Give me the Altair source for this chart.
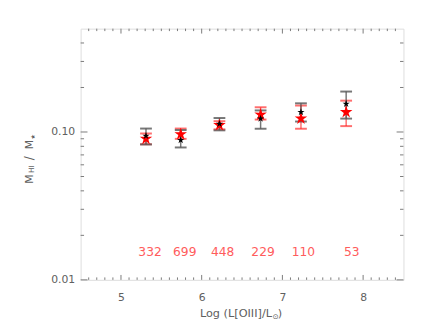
import altair as alt
import pandas as pd
import numpy as np

# ---- data ----
log_oiii = [5.31, 5.74, 6.22, 6.73, 7.23, 7.79]
black_y = [0.0941, 0.0881, 0.1135, 0.1232, 0.1363, 0.155]
black_lo = [0.0824, 0.0786, 0.1026, 0.1052, 0.1177, 0.1232]
black_hi = [0.1055, 0.1031, 0.1243, 0.1399, 0.1563, 0.1877]
red_y = [0.0899, 0.0966, 0.1113, 0.131, 0.1232, 0.1363]
red_lo = [0.0826, 0.0899, 0.1042, 0.1214, 0.1052, 0.1096]
red_hi = [0.0977, 0.1055, 0.1183, 0.147, 0.151, 0.1629]
counts = ["332", "699", "448", "229", "110", "53"]
count_x = [5.36, 5.79, 6.26, 6.76, 7.26, 7.86]
count_y = [0.0154] * 6

x_major = [5, 6, 7, 8]
x_minor = [round(v, 1) for v in np.arange(4.6, 8.45, 0.1) if abs(v - round(v)) > 0.01]
y_major = [0.01, 0.1]
y_minor = [0.02, 0.03, 0.04, 0.05, 0.06, 0.07, 0.08, 0.09, 0.2, 0.3, 0.4]

W, H = 329, 256
FONT = "DejaVu Sans"
GRAY = "#7a7a7a"
LABEL = "#606060"
STAR = ("M0,-1 L0.223,-0.307 L0.951,-0.309 L0.361,0.117 L0.588,0.809 L0,0.38 "
        "L-0.588,0.809 L-0.361,0.117 L-0.951,-0.309 L-0.223,-0.307 Z")

xscale = alt.Scale(domain=[4.5, 8.5], nice=False, zero=False)
yscale = alt.Scale(type="log", domain=[0.01, 0.5], nice=False)

black = pd.DataFrame({"x": log_oiii, "y": black_y, "lo": black_lo, "hi": black_hi})
red = pd.DataFrame({"x": log_oiii, "y": red_y, "lo": red_lo, "hi": red_hi})
cnt = pd.DataFrame({"x": count_x, "y": count_y, "t": counts})

xaxis = alt.Axis(values=x_major, format="d", ticks=False, domain=False, grid=False,
                 labelFont=FONT, labelFontSize=11, labelColor=LABEL, labelPadding=12, title=None)
yaxis = alt.Axis(values=y_major, format=".2f", ticks=False, domain=False, grid=False,
                 labelFont=FONT, labelFontSize=11, labelColor=LABEL, labelPadding=6, title=None)


def X(field="x"):
    return alt.X(f"{field}:Q", scale=xscale, axis=xaxis)


def Y(field):
    return alt.Y(f"{field}:Q", scale=yscale, axis=yaxis)


def errbars(df, color, opacity):
    line = alt.Chart(df).mark_rule(color=color, opacity=opacity, strokeWidth=1.5).encode(
        x=X(), y=Y("lo"), y2="hi:Q")
    cap_lo = alt.Chart(df).mark_tick(orient="horizontal", size=12, thickness=2,
                                     color=color, opacity=opacity).encode(x=X(), y=Y("lo"))
    cap_hi = alt.Chart(df).mark_tick(orient="horizontal", size=12, thickness=2,
                                     color=color, opacity=opacity).encode(x=X(), y=Y("hi"))
    return [line, cap_lo, cap_hi]


def stars(df, color, size):
    return alt.Chart(df).mark_point(shape=STAR, filled=True, size=size, color=color,
                                    opacity=1, strokeWidth=0).encode(x=X(), y=Y("y"))


def xticks(vals, L):
    d = pd.DataFrame({"x": vals})
    b = alt.Chart(d).mark_rule(color=GRAY, strokeWidth=1).encode(
        x=X(), y=alt.value(H), y2=alt.value(H - L))
    t = alt.Chart(d).mark_rule(color=GRAY, strokeWidth=1).encode(
        x=X(), y=alt.value(0), y2=alt.value(L))
    return [b, t]


def yticks(vals, L):
    d = pd.DataFrame({"y": vals})
    l = alt.Chart(d).mark_rule(color=GRAY, strokeWidth=1).encode(
        y=Y("y"), x=alt.value(0), x2=alt.value(L))
    r = alt.Chart(d).mark_rule(color=GRAY, strokeWidth=1).encode(
        y=Y("y"), x=alt.value(W), x2=alt.value(W - L))
    return [l, r]


count_text = alt.Chart(cnt).mark_text(font=FONT, fontSize=12.5, color="#ff5c5c",
                                      align="center", baseline="middle").encode(
    x=X(), y=Y("y"), text="t:N")


def label(txt, x, y, size, angle=0, align="left"):
    return alt.Chart(pd.DataFrame({"t": [txt]})).mark_text(
        font=FONT, fontSize=size, color=LABEL, align=align, baseline="alphabetic",
        angle=angle).encode(x=alt.value(x), y=alt.value(y), text="t:N")


# x title: Log (L[OIII]/L_sun); y title: M_HI / M_*  (rotated, reading upward)
titles = [
    label("Log (L[OIII]/L", 195, 294, 11.5, align="right"),
    label("\u2299", 195.5, 296, 7.5),
    label(")", 201, 294, 11.5),
    label("M", -49, 158, 11, angle=270),
    label("HI", -47.5, 147, 7.5, angle=270),
    label("/", -49, 134, 12, angle=270),
    label("M", -49, 123, 11, angle=270),
    label("\u2605", -46, 113, 6, angle=270),
]

layers = (errbars(red, "#ff2020", 0.65)
          + errbars(black, "#555555", 0.8)
          + [stars(red, "#ff0000", 180), stars(black, "#000000", 60)]
          + xticks(x_major, 5) + xticks(x_minor, 2.5)
          + yticks(y_major, 7) + yticks(y_minor, 3.5)
          + [count_text] + titles)

chart = alt.layer(*layers).properties(
    width=W, height=H,
    autosize=alt.AutoSizeParams(type="none"),
    padding={"left": 74, "top": 18, "right": 25, "bottom": 45},
).configure_view(stroke=GRAY, strokeWidth=1).configure(background="white")

chart.save("out.html", embed_options={"renderer": "svg", "actions": False})
